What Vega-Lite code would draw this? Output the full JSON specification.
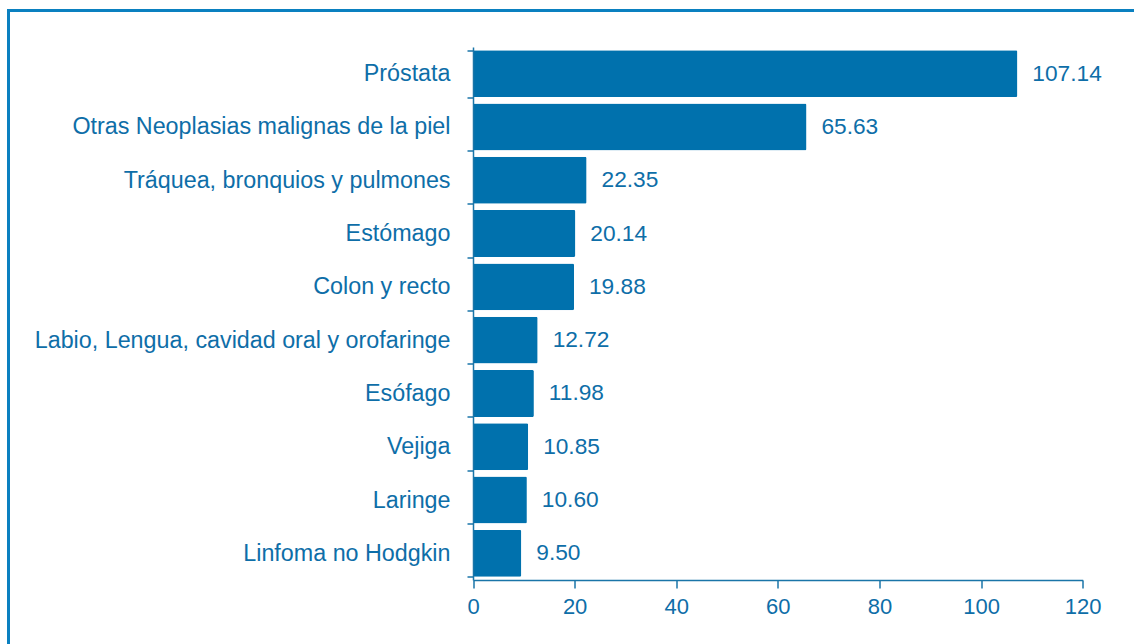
{
  "$schema": "https://vega.github.io/schema/vega-lite/v6.json",
  "width": 1160,
  "height": 660,
  "autosize": {"type": "none"},
  "padding": {"left": 8.5, "top": 10.5, "right": 0, "bottom": 0},
  "background": "white",
  "config": {
    "view": {"stroke": "#0a80c0", "strokeWidth": 3},
    "font": "Liberation Sans"
  },
  "data": {
    "values": [
      {"site": "Próstata", "rate": 107.14},
      {"site": "Otras Neoplasias malignas de la piel", "rate": 65.63},
      {"site": "Tráquea, bronquios y pulmones", "rate": 22.35},
      {"site": "Estómago", "rate": 20.14},
      {"site": "Colon y recto", "rate": 19.88},
      {"site": "Labio, Lengua, cavidad oral y orofaringe", "rate": 12.72},
      {"site": "Esófago", "rate": 11.98},
      {"site": "Vejiga", "rate": 10.85},
      {"site": "Laringe", "rate": 10.60},
      {"site": "Linfoma no Hodgkin", "rate": 9.50}
    ]
  },
  "encoding": {
    "y": {
      "field": "site",
      "type": "nominal",
      "sort": null,
      "scale": {"range": [36.5, 569.5], "paddingInner": 0.12, "paddingOuter": 0.06},
      "axis": {
        "title": null,
        "offset": -464.5,
        "zindex": 1,
        "domainColor": "#1a75a8",
        "domainWidth": 1.5,
        "tickColor": "#1a75a8",
        "tickWidth": 1.5,
        "tickSize": 6,
        "tickBand": "extent",
        "labelColor": "#0e6ea8",
        "labelFontSize": 23.3,
        "labelPadding": 17,
        "labelLimit": 600
      }
    },
    "x": {
      "field": "rate",
      "type": "quantitative",
      "scale": {"domain": [0, 120], "range": [464.5, 1074.2], "nice": false},
      "axis": {
        "title": null,
        "offset": -90.5,
        "zindex": 1,
        "grid": false,
        "values": [0, 20, 40, 60, 80, 100, 120],
        "domainColor": "#1a75a8",
        "domainWidth": 1.5,
        "tickColor": "#1a75a8",
        "tickWidth": 1.5,
        "tickSize": 8,
        "labelColor": "#0e6ea8",
        "labelFontSize": 22,
        "labelPadding": 8,
        "labelFlush": false
      }
    }
  },
  "layer": [
    {"mark": {"type": "bar", "color": "#0071ad", "cornerRadius": 1.5}},
    {
      "mark": {"type": "text", "align": "left", "baseline": "middle", "dx": 15, "fontSize": 22.7, "color": "#0e6ea8"},
      "encoding": {"text": {"field": "rate", "type": "quantitative", "format": ".2f"}}
    }
  ]
}
